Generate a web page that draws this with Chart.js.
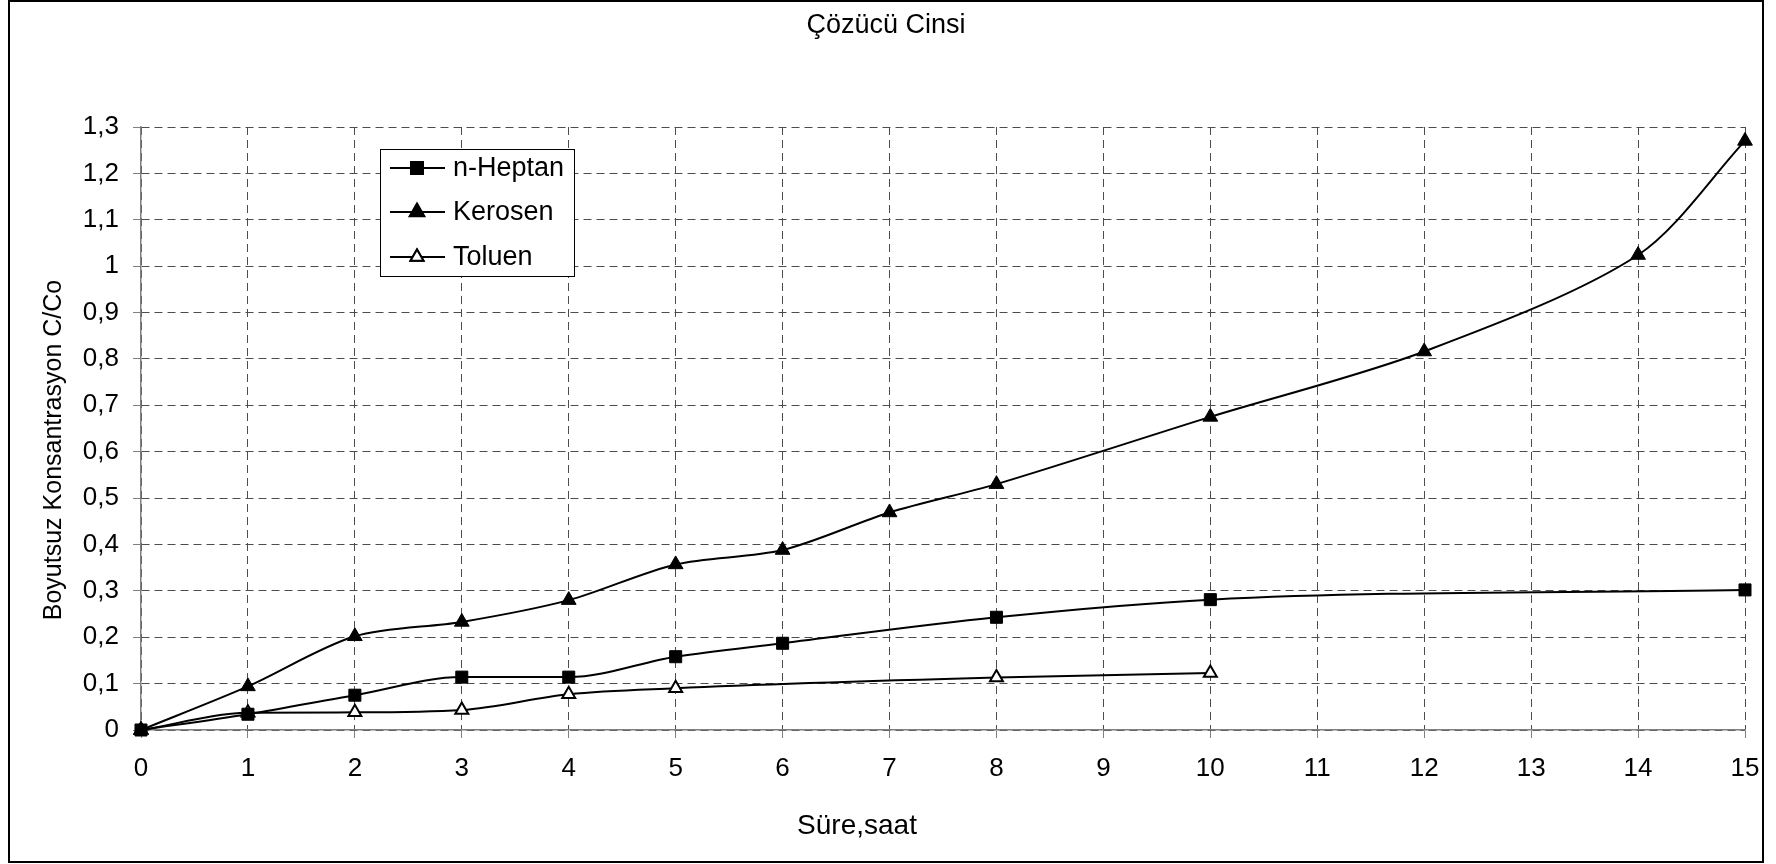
<!DOCTYPE html>
<html>
<head>
<meta charset="utf-8">
<script src="https://cdn.jsdelivr.net/npm/chart.js@4.4.1/dist/chart.umd.min.js"></script>
<style>
  html, body { margin: 0; padding: 0; background: #fff; }
</style>
</head>
<body>
<canvas id="cozucuChart" width="1776" height="864"></canvas>
<script>
// --- data ---
const chartTitle = 'Çözücü Cinsi';
const xAxisTitle = 'Süre,saat';
const yAxisTitle = 'Boyutsuz Konsantrasyon C/Co';
const seriesNames = ['n-Heptan', 'Kerosen', 'Toluen'];

const heptanHours = [0, 1, 2, 3, 4, 5, 6, 8, 10, 15];
const heptanValues = [0, 0.034, 0.075, 0.114, 0.114, 0.158, 0.187, 0.243, 0.281, 0.302];

const kerosenHours = [0, 1, 2, 3, 4, 5, 6, 7, 8, 10, 12, 14, 15];
const kerosenValues = [0, 0.094, 0.202, 0.233, 0.28, 0.357, 0.388, 0.469, 0.53, 0.675, 0.816, 1.024, 1.27];

const toluenHours = [0, 1, 2, 3, 4, 5, 8, 10];
const toluenValues = [0, 0.037, 0.038, 0.043, 0.077, 0.09, 0.113, 0.123];

const xTickLabels = ['0', '1', '2', '3', '4', '5', '6', '7', '8', '9', '10', '11', '12', '13', '14', '15'];
const yTickLabels = ['0', '0,1', '0,2', '0,3', '0,4', '0,5', '0,6', '0,7', '0,8', '0,9', '1', '1,1', '1,2', '1,3'];

const FONT = '"Liberation Sans", Arial, sans-serif';

function toPoints(xs, ys) {
  return xs.map((x, i) => ({ x: x, y: ys[i] }));
}

// title, axis titles, legend box and the outer frame
const decorations = {
  id: 'decorations',
  beforeDraw(chart) {
    const ctx = chart.ctx;
    ctx.save();
    ctx.fillStyle = '#fff';
    ctx.fillRect(0, 0, chart.width, chart.height);
    ctx.restore();
  },
  afterDraw(chart) {
    const ctx = chart.ctx;
    ctx.save();
    ctx.strokeStyle = '#000';
    ctx.lineWidth = 2;
    ctx.strokeRect(9, 1, 1754, 861);

    ctx.fillStyle = '#000';
    ctx.textAlign = 'center';
    ctx.textBaseline = 'alphabetic';
    ctx.font = '27px ' + FONT;
    ctx.fillText(chartTitle, 886, 33);
    ctx.font = '28px ' + FONT;
    ctx.fillText(xAxisTitle, 857, 834);

    ctx.save();
    ctx.font = '25px ' + FONT;
    ctx.translate(61, 450);
    ctx.rotate(-Math.PI / 2);
    ctx.fillText(yAxisTitle, 0, 0);
    ctx.restore();

    // legend
    ctx.fillStyle = '#fff';
    ctx.fillRect(380, 149, 194, 127);
    ctx.strokeStyle = '#000';
    ctx.lineWidth = 1;
    ctx.strokeRect(380.5, 149.5, 194, 127);

    const rows = [168, 212, 257];
    chart.data.datasets.forEach((ds, i) => {
      const y = rows[i];
      ctx.strokeStyle = '#000';
      ctx.lineWidth = 2;
      ctx.beginPath();
      ctx.moveTo(390, y);
      ctx.lineTo(445, y);
      ctx.stroke();
      Chart.helpers.drawPoint(ctx, {
        pointStyle: ds.pointStyle,
        radius: ds.pointRadius,
        rotation: 0,
        borderWidth: ds.pointBorderWidth
      }, 417, y);
      ctx.fillStyle = ds.pointBackgroundColor;
      ctx.strokeStyle = ds.pointBorderColor;
      ctx.lineWidth = ds.pointBorderWidth;
      ctx.fill();
      ctx.stroke();
      ctx.fillStyle = '#000';
      ctx.font = '27px ' + FONT;
      ctx.textAlign = 'left';
      ctx.textBaseline = 'middle';
      ctx.fillText(ds.label, 453, y + 1);
    });
    ctx.restore();
  }
};

const lineStyle = {
  borderColor: '#000',
  borderWidth: 2,
  fill: false,
  tension: 0.3,
  clip: false,
  pointBorderColor: '#000'
};

const ctx = document.getElementById('cozucuChart').getContext('2d');
const cozucuChart = new Chart(ctx, {
  type: 'line',
  data: {
    datasets: [
      Object.assign({}, lineStyle, {
        label: seriesNames[0],
        data: toPoints(heptanHours, heptanValues),
        cubicInterpolationMode: 'monotone',
        pointStyle: 'rect',
        pointRadius: 8.5,
        pointBackgroundColor: '#000',
        pointBorderWidth: 1
      }),
      Object.assign({}, lineStyle, {
        label: seriesNames[1],
        data: toPoints(kerosenHours, kerosenValues),
        pointStyle: 'triangle',
        pointRadius: 8.5,
        pointBackgroundColor: '#000',
        pointBorderWidth: 1
      }),
      Object.assign({}, lineStyle, {
        label: seriesNames[2],
        data: toPoints(toluenHours, toluenValues),
        cubicInterpolationMode: 'monotone',
        pointStyle: 'triangle',
        pointRadius: 7.5,
        pointBackgroundColor: '#fff',
        pointBorderWidth: 2
      })
    ]
  },
  options: {
    responsive: false,
    animation: false,
    devicePixelRatio: 1,
    events: [],
    layout: { padding: { top: 127, right: 31, bottom: 0, left: 0 } },
    plugins: {
      legend: { display: false },
      title: { display: false },
      tooltip: { enabled: false }
    },
    scales: {
      x: {
        type: 'linear',
        min: 0,
        max: 15,
        ticks: {
          stepSize: 1,
          autoSkip: false,
          maxRotation: 0,
          padding: 15,
          color: '#000',
          font: { family: FONT, size: 26 },
          callback: v => xTickLabels[Math.round(v)]
        },
        grid: {
          color: '#4d4d4d',
          lineWidth: 1,
          tickLength: 8,
          tickColor: '#808080',
          tickBorderDash: []
        },
        border: { dash: [8, 5], color: '#808080', width: 1.5 },
        afterFit: s => { s.height = 134; }
      },
      y: {
        min: 0,
        max: 1.3,
        ticks: {
          stepSize: 0.1,
          autoSkip: false,
          padding: 14,
          color: '#000',
          font: { family: FONT, size: 26 },
          callback: v => yTickLabels[Math.round(v * 10)]
        },
        grid: {
          color: '#4d4d4d',
          lineWidth: 1,
          tickLength: 8,
          tickColor: '#808080',
          tickBorderDash: []
        },
        border: { dash: [8, 5], color: '#808080', width: 1.5 },
        afterFit: s => { s.width = 141; }
      }
    }
  },
  plugins: [decorations]
});
</script>
</body>
</html>
